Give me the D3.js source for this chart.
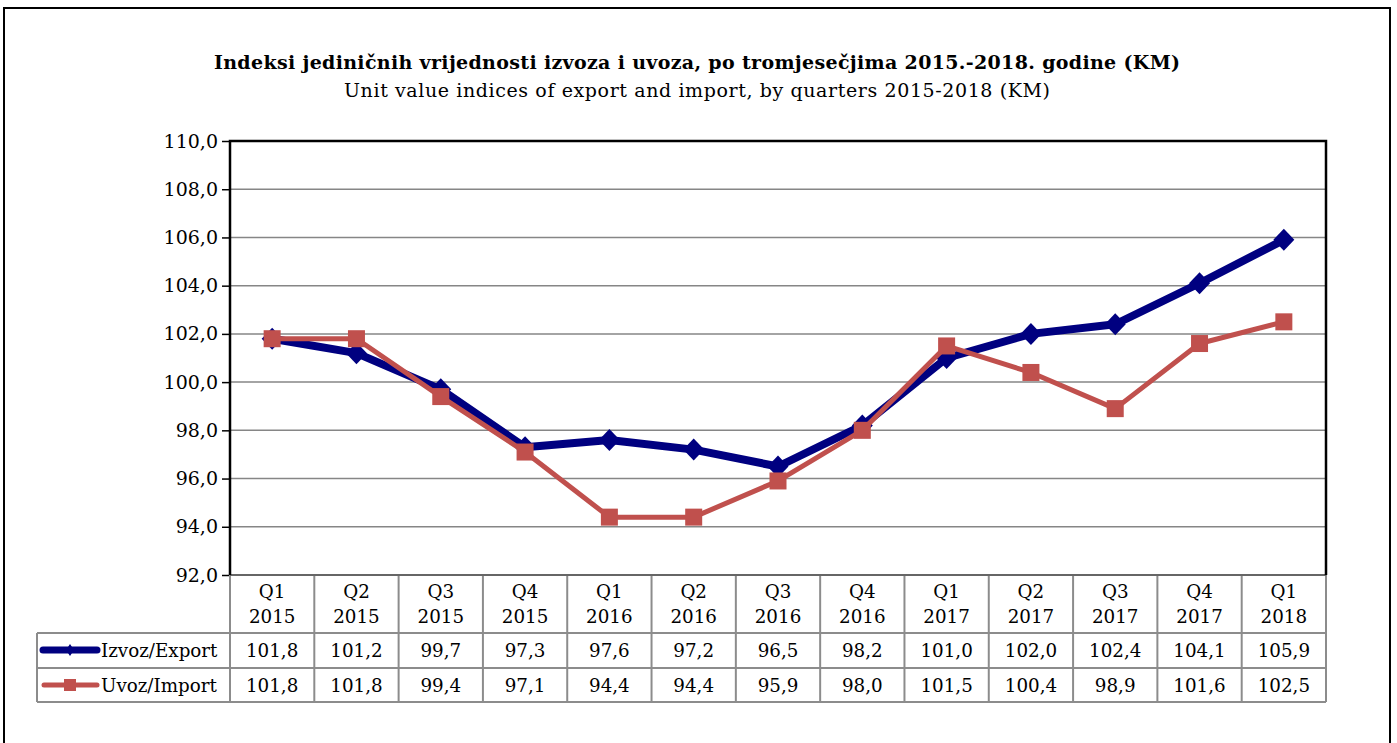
<!DOCTYPE html>
<html><head><meta charset="utf-8">
<script src="https://cdn.jsdelivr.net/npm/d3@7"></script>
<style>body{margin:0;background:#fff;} svg{display:block;} text{font-family:"DejaVu Serif",serif;fill:#000;}</style>
</head><body>
<svg id="c" width="1397" height="743"></svg>
<script>
const quarters = ["Q1","Q2","Q3","Q4","Q1","Q2","Q3","Q4","Q1","Q2","Q3","Q4","Q1"];
const years = ["2015","2015","2015","2015","2016","2016","2016","2016","2017","2017","2017","2017","2018"];
const exportValues = [101.8,101.2,99.7,97.3,97.6,97.2,96.5,98.2,101.0,102.0,102.4,104.1,105.9];
const importValues = [101.8,101.8,99.4,97.1,94.4,94.4,95.9,98.0,101.5,100.4,98.9,101.6,102.5];
const yTicks = [92,94,96,98,100,102,104,106,108,110];
const seriesNames = ["Izvoz/Export","Uvoz/Import"];
const titleText = "Indeksi jediničnih vrijednosti izvoza i uvoza, po tromjesečjima 2015.-2018. godine (KM)";
const subtitleText = "Unit value indices of export and import, by quarters 2015-2018 (KM)";

const svg = d3.select("#c");
const L = 230, R = 1326, T = 141, B = 575;
const row1 = 633, row2 = 668, row3 = 702, legL = 37;
const fs = "18.3px";
const fmt = v => v.toFixed(1).replace(".", ",");
const cats = quarters.map((q,i) => i);
const x = d3.scaleBand().domain(cats).range([L, R]);
const cx = i => x(i) + x.bandwidth()/2;
const y = d3.scaleLinear().domain([92,110]).range([B, T]);

svg.append("rect").attr("x",4).attr("y",8).attr("width",1386).attr("height",760)
  .attr("fill","none").attr("stroke","#000").attr("stroke-width",2);

svg.append("text").attr("x",697).attr("y",69).attr("text-anchor","middle")
  .attr("textLength",966).attr("lengthAdjust","spacing")
  .style("font-weight","bold").style("font-size","19px").text(titleText);
svg.append("text").attr("x",697).attr("y",97).attr("text-anchor","middle")
  .attr("textLength",706).attr("lengthAdjust","spacing")
  .style("font-size","19px").text(subtitleText);

svg.append("g").selectAll("line").data(yTicks.filter(t => t>92 && t<110)).join("line")
  .attr("x1",L).attr("x2",R).attr("y1",d=>y(d)).attr("y2",d=>y(d))
  .attr("stroke","#868686").attr("stroke-width",1.5);

const ya = svg.append("g").attr("transform",`translate(${L},0)`)
  .call(d3.axisLeft(y).tickValues(yTicks).tickFormat(fmt).tickSize(8).tickPadding(4));
ya.select(".domain").remove();
ya.selectAll(".tick line").attr("stroke","#000").attr("stroke-width",1.5);
ya.selectAll(".tick text").style("font-family",'"DejaVu Serif",serif').style("font-size","19px").attr("fill","#000");

const tg = svg.append("g").attr("stroke","#8c8c8c").attr("stroke-width",2).attr("fill","none");
[row1,row2,row3].forEach(yy => tg.append("line").attr("x1",legL).attr("x2",R).attr("y1",yy).attr("y2",yy));
tg.append("line").attr("x1",legL).attr("x2",legL).attr("y1",row1).attr("y2",row3);
d3.range(14).forEach(i => {
  const xx = i<13 ? x(i) : R;
  tg.append("line").attr("x1",xx).attr("x2",xx).attr("y1",B).attr("y2",row3);
});

svg.append("line").attr("x1",L).attr("x2",R).attr("y1",B).attr("y2",B).attr("stroke","#666").attr("stroke-width",2);
svg.append("path").attr("d",`M${L},${B}V${T}H${R}V${B}`).attr("fill","none").attr("stroke","#000").attr("stroke-width",2.5);

const hdr = svg.append("g").style("font-size",fs).attr("text-anchor","middle");
cats.forEach(i => {
  hdr.append("text").attr("x",cx(i)).attr("y",598).text(quarters[i]);
  hdr.append("text").attr("x",cx(i)).attr("y",623).text(years[i]);
});
const vals = svg.append("g").style("font-size",fs).attr("text-anchor","middle");
cats.forEach(i => {
  vals.append("text").attr("x",cx(i)).attr("y",657).text(fmt(exportValues[i]));
  vals.append("text").attr("x",cx(i)).attr("y",692).text(fmt(importValues[i]));
});

const colE = "#000080", colI = "#C0504D";
const diamond = (hw, hh) => `M0,${-hh}L${hw},0L0,${hh}L${-hw},0Z`;
const lg = svg.append("g");
lg.append("line").attr("x1",43).attr("x2",97).attr("y1",650).attr("y2",650).attr("stroke",colE).attr("stroke-width",7).attr("stroke-linecap","round");
lg.append("path").attr("d",diamond(4,6)).attr("transform","translate(70,650)").attr("fill",colE);
lg.append("line").attr("x1",44).attr("x2",97).attr("y1",685).attr("y2",685).attr("stroke",colI).attr("stroke-width",5).attr("stroke-linecap","round");
lg.append("rect").attr("x",64).attr("y",679).attr("width",12).attr("height",12).attr("fill",colI);
lg.append("text").attr("x",101).attr("y",657).style("font-size",fs).text(seriesNames[0]);
lg.append("text").attr("x",101).attr("y",692).style("font-size",fs).text(seriesNames[1]);

const line = d3.line().x((d,i)=>cx(i)).y(d=>y(d));
svg.append("path").datum(exportValues).attr("d",line).attr("fill","none").attr("stroke",colE).attr("stroke-width",8).attr("stroke-linejoin","round");
svg.append("g").selectAll("path").data(exportValues).join("path")
  .attr("d",diamond(10.5,11)).attr("transform",(d,i)=>`translate(${cx(i)},${y(d)})`).attr("fill",colE);
svg.append("path").datum(importValues).attr("d",line).attr("fill","none").attr("stroke",colI).attr("stroke-width",5).attr("stroke-linejoin","round");
svg.append("g").selectAll("rect").data(importValues).join("rect")
  .attr("x",(d,i)=>cx(i)-8.5).attr("y",d=>y(d)-8.5).attr("width",17).attr("height",17).attr("fill",colI);
</script>
</body></html>
